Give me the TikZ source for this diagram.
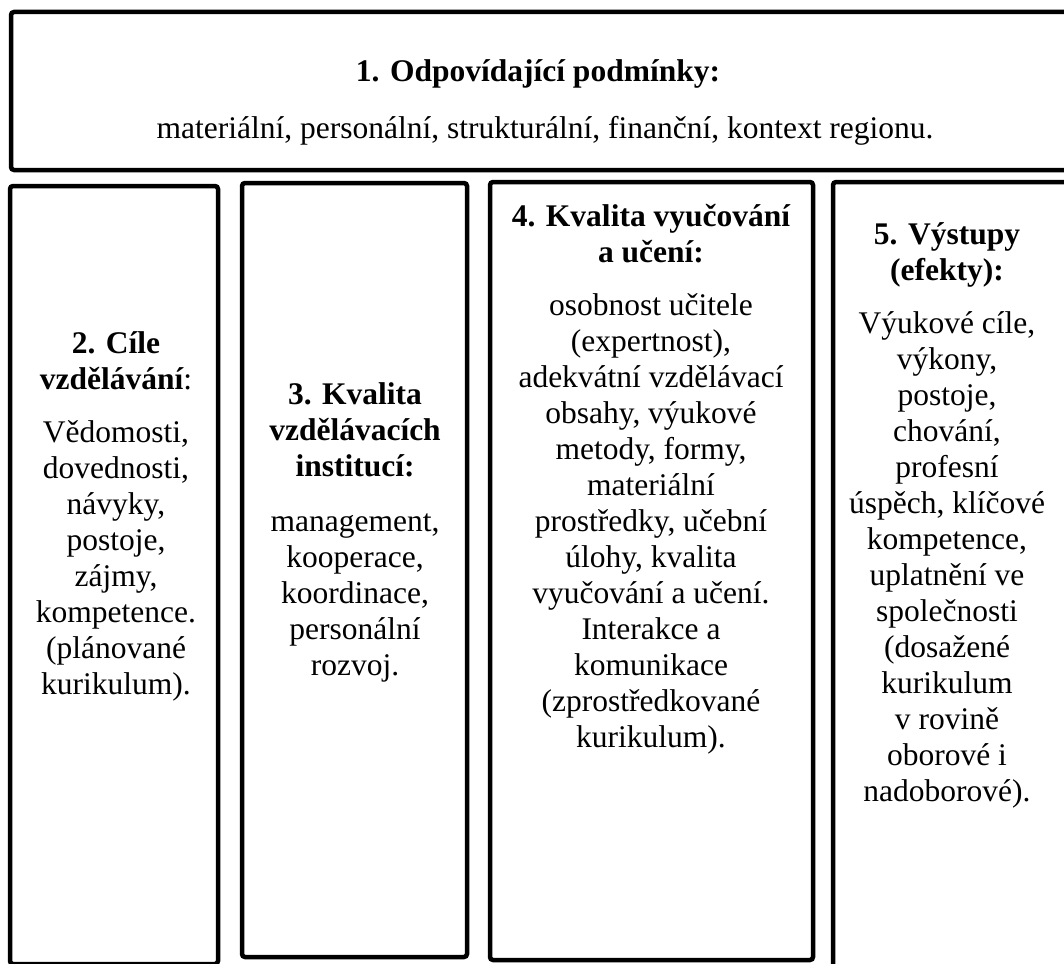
\documentclass[tikz,border=0pt]{standalone}
\usepackage{fontspec}
\setmainfont{Liberation Serif}
\newfontfamily\tnr{Liberation Serif}
\tikzset{
  frame/.style={draw=black, line width=4.5pt, rounded corners=3pt, inner sep=0pt, outer sep=0pt, anchor=north west},
  txt/.style={align=center, anchor=base, inner sep=0pt, font=\tnr\fontsize{31.5}{36}\selectfont},
  head/.style={txt, font=\tnr\fontsize{31.5}{36}\selectfont\bfseries},
}
\begin{document}
\begin{tikzpicture}[x=1pt,y=-1pt]
\useasboundingbox (0,0) rectangle (1064,963);
\clip (0,0) rectangle (1064,963);
% boxes
\node[frame, minimum width=1070pt, minimum height=158pt] (b1) at (11,12) {};
\node[frame, minimum width=208pt, minimum height=778pt] (b2) at (10,186) {};
\node[frame, minimum width=225pt, minimum height=774pt] (b3) at (242,183) {};
\node[frame, minimum width=323pt, minimum height=778pt] (b4) at (490,182) {};
\node[frame, minimum width=260pt, minimum height=800pt] (b5) at (833,182) {};
% texts (anchor = baseline of last line)
\node[head] (h1) at (538,82) {1. Odpovídající podmínky:};
\node[txt] (t1) at (545,138) {materiální, personální, strukturální, finanční, kontext regionu.};
\node[head] (h2) at (116,389) {2. Cíle\\vzdělávání\mdseries:};
\node[txt] (t2) at (116,694) {Vědomosti,\\dovednosti,\\návyky,\\postoje,\\zájmy,\\kompetence.\\(plánované\\kurikulum).};
\node[head] (h3) at (355,476) {3. Kvalita\\vzdělávacích\\institucí:};
\node[txt] (t3) at (355,675) {management,\\kooperace,\\koordinace,\\personální\\rozvoj.};
\node[head] (h4) at (651,262) {4. Kvalita vyučování\\a učení:};
\node[txt] (t4) at (651,747) {osobnost učitele\\(expertnost),\\adekvátní vzdělávací\\obsahy, výukové\\metody, formy,\\materiální\\prostředky, učební\\úlohy, kvalita\\vyučování a učení.\\Interakce a\\komunikace\\(zprostředkované\\kurikulum).};
\node[head] (h5) at (947,280) {5. Výstupy\\(efekty):};
\node[txt] (t5) at (947,801) {Výukové cíle,\\výkony,\\postoje,\\chování,\\profesní\\úspěch, klíčové\\kompetence,\\uplatnění ve\\společnosti\\(dosažené\\kurikulum\\v rovině\\oborové i\\nadoborové).};
\end{tikzpicture}
\end{document}
